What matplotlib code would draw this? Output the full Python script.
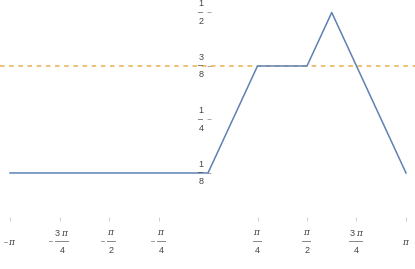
import matplotlib
matplotlib.use("Agg")
import matplotlib.pyplot as plt
import numpy as np

pi = np.pi

# piecewise curve
xs = [-pi, 0, pi / 4, pi / 2, 5 * pi / 8, pi]
ys = [1 / 8, 1 / 8, 3 / 8, 3 / 8, 1 / 2, 1 / 8]
level = 3 / 8

xticks = [-pi, -3 * pi / 4, -pi / 2, -pi / 4, pi / 4, pi / 2, 3 * pi / 4, pi]
# (sign, numerator, denominator); empty denominator = plain label
xlabels = [("–", r"$\pi$", ""), ("–", r"3 $\pi$", "4"), ("–", r"$\pi$", "2"), ("–", r"$\pi$", "4"),
           ("", r"$\pi$", "4"), ("", r"$\pi$", "2"), ("", r"3 $\pi$", "4"), ("", r"$\pi$", "")]
yticks = [1 / 8, 1 / 4, 3 / 8, 1 / 2]
ylabels = [("1", "8"), ("1", "4"), ("3", "8"), ("1", "2")]

plt.rcParams['mathtext.fontset'] = 'dejavuserif'
plt.rcParams['font.family'] = 'Liberation Sans'
tcol = '#444444'
fs = 6.5

fig = plt.figure(figsize=(4.15, 2.69), dpi=100)
ax = fig.add_axes([0, 0, 1, 1])

ax.plot(xs, ys, color='#5e81b5', lw=1.1, zorder=3)
ax.axhline(level, color='#e19c24', lw=1.1, ls=(0, (3, 3)), alpha=0.8, zorder=2)

ax.set_xlim(-pi - 0.159, pi + 0.143)
ax.set_ylim(-0.0994, 0.5292)

for s in ax.spines.values():
    s.set_visible(False)
ax.spines['bottom'].set_position(('data', 0.012))
ax.spines['left'].set_position(('data', -0.02))

ax.set_xticks(xticks)
ax.set_xticklabels([])
ax.set_yticks(yticks)
ax.set_yticklabels([])
ax.tick_params(axis='x', direction='in', length=3, width=0.5, color='#bbbbbb')
ax.tick_params(axis='y', direction='in', length=3, width=0.6, color='#999999')

# fraction-style tick labels, drawn like the original
ylab_x = -0.112
xlab_y = -0.035
for x, (sign, num, den) in zip(xticks, xlabels):
    if den:
        wide = num.startswith("3")
        bar = "—–" if wide else "—"
        shift = 0.04 if sign else 0.0
        ax.text(x + shift, xlab_y, num + "\n" + bar + "\n" + den, ha='center', va='center',
                fontsize=fs, color=tcol, linespacing=0.95, clip_on=False)
        if sign:
            off = 0.14 if wide else 0.09
            ax.text(x - off, xlab_y, sign, ha='center', va='center', fontsize=5, color=tcol)
    else:
        ax.text(x - 0.03, xlab_y - 0.002, sign, ha='right', va='center', fontsize=5, color=tcol)
        ax.text(x - 0.03 if sign else x, xlab_y - 0.002, num, ha='left' if sign else 'center',
                va='center', fontsize=fs, color=tcol)

for y, (num, den) in zip(yticks, ylabels):
    ax.text(ylab_x, y, num + "\n–\n" + den, ha='center', va='center',
            fontsize=fs, color=tcol, linespacing=0.95)

fig.savefig("out.png", dpi=100)
